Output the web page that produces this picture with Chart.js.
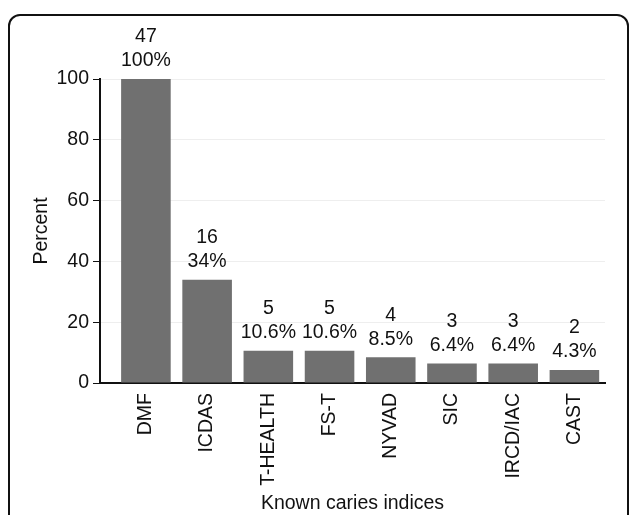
<!DOCTYPE html>
<html lang="en">
<head>
    <meta charset="UTF-8">
    <title>Known caries indices</title>
    <script src="https://cdn.jsdelivr.net/npm/chart.js@4"></script>
    <style>
        body { margin: 0; background: #fff; }
        .pag { position: relative; width: 630px; height: 515px; overflow: hidden; }
        .moldura {
            position: absolute; left: 8px; top: 14px; width: 617px; height: 560px;
            border: 2px solid #111; border-radius: 12px;
        }
        canvas { position: absolute; left: 0; top: 0; }
    </style>
</head>
<body>
    <div class="pag">
        <div class="moldura"></div>
        <canvas id="grafico" width="630" height="515"></canvas>
    </div>

<script>
// dados
const indices = ['DMF', 'ICDAS', 'T-HEALTH', 'FS-T', 'NYVAD', 'SIC', 'IRCD/IAC', 'CAST'];
const contagens = [47, 16, 5, 5, 4, 3, 3, 2];
const percentuais = [100, 34, 10.6, 10.6, 8.5, 6.4, 6.4, 4.3];
const rotulosPct = ['100%', '34%', '10.6%', '10.6%', '8.5%', '6.4%', '6.4%', '4.3%'];
const ticksY = [0, 20, 40, 60, 80, 100];

const fonte = { family: '"Liberation Sans", Arial, sans-serif', size: 19.5 };

// rotulos de duas linhas acima de cada barra
const rotulosBarras = {
    id: 'rotulosBarras',
    afterDatasetsDraw(chart) {
        const ctx = chart.ctx;
        const meta = chart.getDatasetMeta(0);
        ctx.save();
        ctx.font = '19.5px "Liberation Sans", Arial, sans-serif';
        ctx.fillStyle = '#111';
        ctx.textAlign = 'center';
        ctx.textBaseline = 'middle';
        meta.data.forEach(function (barra, i) {
            ctx.fillText(rotulosPct[i], barra.x, barra.y - 18);
            ctx.fillText(String(contagens[i]), barra.x, barra.y - 42);
        });
        ctx.restore();
    }
};

const dados = {
    datasets: [{
        label: 'Percent',
        data: percentuais.map(function (v, i) { return { x: i, y: v }; }),
        backgroundColor: '#707070',
        borderWidth: 0,
        barPercentage: 0.81,
        categoryPercentage: 1
    }]
};

const config = {
    type: 'bar',
    data: dados,
    options: {
        responsive: false,
        animation: false,
        layout: { padding: { left: 26, right: 25, top: 79, bottom: 0 } },
        plugins: {
            legend: { display: false },
            tooltip: { enabled: false }
        },
        scales: {
            x: {
                type: 'linear',
                offset: false,
                min: -0.75,
                max: 7.5,
                afterBuildTicks: function (s) {
                    s.ticks = indices.map(function (c, i) { return { value: i }; });
                },
                afterFit: function (s) { s.height = 515 - 383; },
                grid: { display: false },
                border: { color: '#111', width: 2 },
                ticks: {
                    autoSkip: false,
                    minRotation: 90,
                    maxRotation: 90,
                    padding: 2,
                    color: '#111',
                    font: fonte,
                    callback: function (v) { return indices[v]; }
                },
                title: {
                    display: true,
                    text: 'Known caries indices',
                    color: '#111',
                    font: fonte,
                    padding: { top: 0, bottom: 0 }
                }
            },
            y: {
                min: 0,
                max: 100,
                afterBuildTicks: function (s) {
                    s.ticks = ticksY.map(function (v) { return { value: v }; });
                },
                afterFit: function (s) { s.width = 100 - 26; },
                grid: { color: '#eeeeee', tickColor: '#111', tickLength: 7, lineWidth: 1 },
                border: { color: '#111', width: 2 },
                ticks: { padding: 4, color: '#111', font: fonte },
                title: {
                    display: true,
                    text: 'Percent',
                    color: '#111',
                    font: fonte,
                    padding: { top: 4, bottom: 4 }
                }
            }
        }
    },
    plugins: [rotulosBarras]
};

let grafico = new Chart(document.getElementById('grafico'), config);
</script>
</body>
</html>
